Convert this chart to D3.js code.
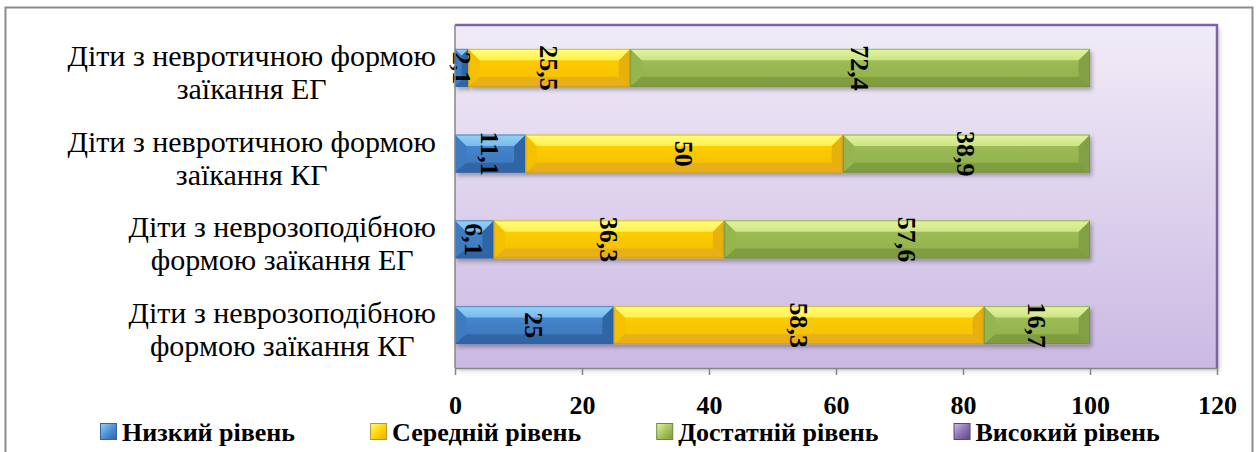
<!DOCTYPE html>
<html>
<head>
<meta charset="utf-8">
<script src="https://cdn.jsdelivr.net/npm/d3@7"></script>
<style>
  body { margin: 0; background: #fff; }
  svg { display: block; }
  text { font-family: "Liberation Serif", "Times New Roman", serif; }
</style>
</head>
<body>
<svg id="chart" width="1259" height="452"></svg>
<script>
// Category labels (line breaks mark the wrapped lines)
const categories = [
  "Діти з невротичною формою\nзаїкання ЕГ",
  "Діти з невротичною формою\nзаїкання КГ",
  "Діти з неврозоподібною\nформою заїкання ЕГ",
  "Діти з неврозоподібною\nформою заїкання КГ"
];
const seriesNames = ["Низкий рівень", "Середній рівень", "Достатній рівень", "Високий рівень"];
const lowLevel    = [2.1, 11.1, 6.1, 25];
const midLevel    = [25.5, 50, 36.3, 58.3];
const enoughLevel = [72.4, 38.9, 57.6, 16.7];
const highLevel   = [0, 0, 0, 0];
const xTicks = [0, 20, 40, 60, 80, 100, 120];

const seriesValues = [lowLevel, midLevel, enoughLevel, highLevel];
const rows = categories.map((c, i) => {
  const r = { category: c };
  seriesNames.forEach((s, j) => r[s] = seriesValues[j][i]);
  return r;
});

// Bevelled fill palettes per series
const palettes = [
  { top: "#93d2f7", faceA: "#4a8dd4", faceB: "#3a74b8", bottom: "#2f62a2", left: "#3d7bc2", right: "#2f65a6", edge: "#35659a" },
  { top: "#ffff7a", faceA: "#ffd200", faceB: "#f6bd08", bottom: "#e5ad1c", left: "#f4c000", right: "#e8b010", edge: "#b6963a" },
  { top: "#e4f59e", faceA: "#a3c25a", faceB: "#8eae4a", bottom: "#7c9a3e", left: "#95b650", right: "#82a044", edge: "#70883c" },
  { top: "#cdb8ea", faceA: "#8a6db0", faceB: "#735696", bottom: "#5f4780", left: "#7a5ea0", right: "#684f8c", edge: "#5a4478" }
];

const svg = d3.select("#chart");
const plot = { left: 455, right: 1217, top: 25, bottom: 368 };

const defs = svg.append("defs");
const bg = defs.append("linearGradient").attr("id", "plotBg").attr("x1", 0).attr("y1", 0).attr("x2", 0).attr("y2", 1);
bg.append("stop").attr("offset", "0%").attr("stop-color", "#f1ecf8");
bg.append("stop").attr("offset", "100%").attr("stop-color", "#cbb9e3");

palettes.forEach((p, i) => {
  const g = defs.append("linearGradient").attr("id", "face" + i).attr("x1", 0).attr("y1", 0).attr("x2", 0).attr("y2", 1);
  g.append("stop").attr("offset", "0%").attr("stop-color", p.faceA);
  g.append("stop").attr("offset", "100%").attr("stop-color", p.faceB);
  const t = defs.append("linearGradient").attr("id", "top" + i).attr("x1", 0).attr("y1", 0).attr("x2", 0).attr("y2", 1);
  t.append("stop").attr("offset", "0%").attr("stop-color", p.top);
  t.append("stop").attr("offset", "100%").attr("stop-color", d3.interpolateRgb(p.top, p.faceA)(0.35));
  const lg = defs.append("linearGradient").attr("id", "leg" + i).attr("x1", 0).attr("y1", 0).attr("x2", 1).attr("y2", 1);
  lg.append("stop").attr("offset", "0%").attr("stop-color", p.top);
  lg.append("stop").attr("offset", "55%").attr("stop-color", p.faceA);
  lg.append("stop").attr("offset", "100%").attr("stop-color", p.bottom);
});

const shadow = defs.append("filter").attr("id", "barShadow")
  .attr("x", "-5%").attr("y", "-20%").attr("width", "115%").attr("height", "160%");
shadow.append("feDropShadow").attr("dx", 2).attr("dy", 3).attr("stdDeviation", 2)
  .attr("flood-color", "#000").attr("flood-opacity", 0.3);

const plotShadow = defs.append("filter").attr("id", "plotShadow")
  .attr("x", "-2%").attr("y", "-5%").attr("width", "105%").attr("height", "112%");
plotShadow.append("feDropShadow").attr("dx", 3).attr("dy", 3).attr("stdDeviation", 2)
  .attr("flood-color", "#000").attr("flood-opacity", 0.18);

// Outer chart frame
svg.append("rect").attr("x", 5.5).attr("y", 7.5).attr("width", 1247).attr("height", 460)
  .attr("fill", "#fff").attr("stroke", "#8c8c8c").attr("stroke-width", 2);

const x = d3.scaleLinear().domain([0, 120]).range([plot.left, plot.right]);
const y = d3.scaleBand().domain(categories).range([plot.top, plot.bottom])
  .paddingInner(0.557).paddingOuter(0.2785);

// Plot area
svg.append("rect")
  .attr("x", plot.left).attr("y", plot.top)
  .attr("width", plot.right - plot.left).attr("height", plot.bottom - plot.top)
  .attr("fill", "url(#plotBg)").attr("filter", "url(#plotShadow)");
svg.append("path")
  .attr("d", `M${plot.left},${plot.top}H${plot.right}V${plot.bottom}`)
  .attr("fill", "none").attr("stroke", "#8064a2").attr("stroke-width", 2.5);

// Stacked bars
const stacked = d3.stack().keys(seriesNames)(rows);

const bh = y.bandwidth();
const layers = svg.append("g").attr("class", "bars");
stacked.forEach((layer, si) => {
  const p = palettes[si];
  layer.forEach((d) => {
    const x0 = x(d[0]), x1 = x(d[1]);
    const w = x1 - x0;
    if (w <= 0) return;
    const top = y(d.data.category);
    const g = layers.append("g").attr("transform", `translate(${x0},${top})`).attr("filter", "url(#barShadow)");
    const bt = Math.min(bh * 0.3, w / 2);
    const bb = Math.min(bh * 0.26, w / 2);
    const bs = Math.min(bh * 0.3, w / 2);
    g.append("rect").attr("width", w).attr("height", bh).attr("fill", `url(#face${si})`);
    // left and right end facets
    g.append("path").attr("d", `M0,0L${bs},${bt}L${bs},${bh - bb}L0,${bh}Z`).attr("fill", p.left);
    g.append("path").attr("d", `M${w},0L${w - bs},${bt}L${w - bs},${bh - bb}L${w},${bh}Z`).attr("fill", p.right);
    // top highlight and bottom shade
    g.append("path").attr("d", `M0,0H${w}L${w - bs},${bt}H${bs}Z`).attr("fill", `url(#top${si})`);
    g.append("path").attr("d", `M0,${bh}H${w}L${w - bs},${bh - bb}H${bs}Z`).attr("fill", p.bottom).attr("opacity", 0.85);
    g.append("rect").attr("x", 0.5).attr("y", 0.5).attr("width", Math.max(w - 1, 0)).attr("height", bh - 1)
      .attr("fill", "none").attr("stroke", p.edge).attr("stroke-opacity", 0.6).attr("stroke-width", 1);
  });
});

// Value labels, rotated to read top to bottom
const fmt = v => String(v).replace(".", ",");
const labels = svg.append("g").attr("class", "value-labels");
stacked.forEach((layer) => {
  layer.forEach((d) => {
    const v = d.data[layer.key];
    if (v <= 0) return;
    const cx = x((d[0] + d[1]) / 2);
    const cy = y(d.data.category) + bh / 2;
    labels.append("text")
      .attr("transform", `translate(${cx},${cy}) rotate(90)`)
      .attr("text-anchor", "middle").attr("dy", "0.35em")
      .attr("font-size", 26).attr("font-weight", "bold").attr("fill", "#000")
      .text(fmt(v));
  });
});

// Left axis line
svg.append("line").attr("x1", plot.left).attr("x2", plot.left).attr("y1", plot.top).attr("y2", plot.bottom)
  .attr("stroke", "#868686").attr("stroke-width", 1.5);

// Bottom axis
const xAxis = d3.axisBottom(x).tickValues(xTicks).tickSize(7).tickPadding(21).tickSizeOuter(0);
const ax = svg.append("g").attr("transform", `translate(0,${plot.bottom})`).call(xAxis);
ax.select(".domain").attr("stroke", "#868686").attr("stroke-width", 1.5);
ax.selectAll(".tick line").attr("stroke", "#868686").attr("stroke-width", 1.5);
ax.selectAll(".tick text")
  .attr("font-family", "'Liberation Serif', 'Times New Roman', serif")
  .attr("font-size", 26).attr("font-weight", "bold").attr("fill", "#000");

// Category labels, lines centred within a right-aligned block
const catG = svg.append("g").attr("class", "categories");
categories.forEach((c) => {
  const lines = c.split("\n");
  const cy = y(c) + bh / 2;
  const t = catG.append("text").attr("font-size", 30).attr("fill", "#000").attr("text-anchor", "middle");
  const spans = lines.map((ln, i) => t.append("tspan").attr("y", cy - 2 + i * 33).text(ln));
  const maxW = d3.max(spans, s => s.node().getComputedTextLength());
  spans.forEach(s => s.attr("x", 436 - maxW / 2));
});

// Legend
const legend = svg.append("g").attr("class", "legend");
let lx = 100;
seriesNames.forEach((s, i) => {
  const p = palettes[i];
  legend.append("rect").attr("x", lx + 0.5).attr("y", 423.5).attr("width", 16).attr("height", 16)
    .attr("fill", `url(#leg${i})`).attr("stroke", p.edge).attr("stroke-width", 1);
  const t = legend.append("text").attr("x", lx + 22).attr("y", 441)
    .attr("font-size", 26).attr("font-weight", "bold").attr("fill", "#000").text(s);
  lx += 22 + t.node().getComputedTextLength() + 75;
});
</script>
</body>
</html>
